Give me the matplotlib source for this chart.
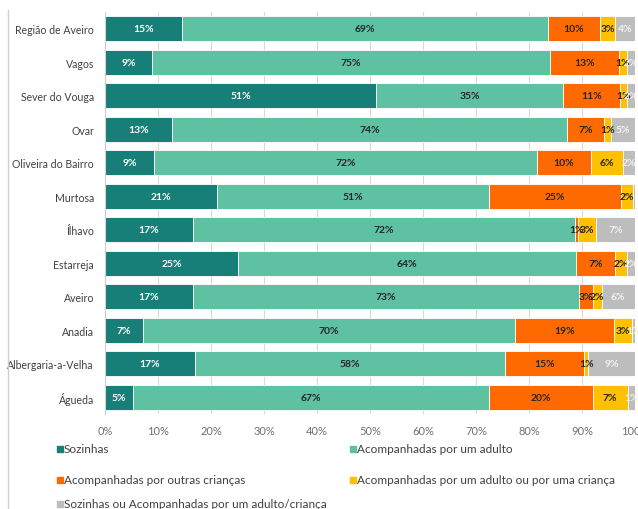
import matplotlib.pyplot as plt
from matplotlib.lines import Line2D
from matplotlib.patches import Rectangle

plt.rcParams["font.family"] = ["Lato", "DejaVu Sans"]

# categories, top to bottom as in the chart
concelhos = [
    "Região de Aveiro", "Vagos", "Sever do Vouga", "Ovar", "Oliveira do Bairro",
    "Murtosa", "Ílhavo", "Estarreja", "Aveiro", "Anadia",
    "Albergaria-a-Velha", "Águeda",
]

series_names = [
    "Sozinhas",
    "Acompanhadas por um adulto",
    "Acompanhadas por outras crianças",
    "Acompanhadas por um adulto ou por uma criança",
    "Sozinhas ou Acompanhadas por um adulto/criança",
]

# percentages
sozinhas = [14.6, 8.9, 51.1, 12.7, 9.3, 21.1, 16.6, 25.1, 16.6, 7.1, 17.0, 5.2]
com_adulto = [69.0, 75.1, 35.4, 74.4, 72.2, 51.3, 72.1, 63.8, 72.8, 70.3, 58.4, 67.2]
com_criancas = [9.8, 13.0, 10.6, 7.1, 10.2, 25.0, 0.6, 7.4, 2.7, 18.6, 15.0, 19.6]
adulto_ou_crianca = [2.8, 1.4, 1.4, 1.2, 6.0, 2.2, 3.4, 2.2, 1.6, 3.4, 0.8, 6.6]
sozinhas_ou_acomp = [3.8, 1.6, 1.5, 4.6, 2.3, 0.4, 7.3, 1.5, 6.3, 0.6, 8.8, 1.4]

x_ticks = [0, 10, 20, 30, 40, 50, 60, 70, 80, 90, 100]

colors = ["#177F78", "#5EC1A1", "#FF6A00", "#FFC000", "#BDBDBD"]
label_colors = ["white", "#262626", "#262626", "#262626", "#F2F2F2"]

series = [sozinhas, com_adulto, com_criancas, adulto_ou_crianca, sozinhas_ou_acomp]

fig = plt.figure(figsize=(6.38, 5.10), dpi=100)
ax = fig.add_axes([105 / 638, 1 - 415 / 510, 530 / 638, 402 / 510])

ypos = list(range(len(concelhos)))
left = [0.0] * len(concelhos)
for vals, col, tcol in zip(series, colors, label_colors):
    bars = ax.barh(ypos, vals, left=left, height=0.75, color=col,
                   edgecolor="white", linewidth=0.6, zorder=2)
    for b, v in zip(bars, vals):
        if round(v) >= 1:
            ax.text(b.get_x() + b.get_width() / 2, b.get_y() + b.get_height() / 2,
                    f"{round(v)}%", ha="center", va="center", fontsize=7.5,
                    fontweight="bold", color=tcol, zorder=3)
    left = [l + v for l, v in zip(left, vals)]

ax.set_xlim(0, 100)
ax.set_ylim(len(concelhos) - 0.5, -0.5)
ax.set_xticks(x_ticks)
ax.set_xticklabels([f"{t}%" for t in x_ticks], fontsize=8, color="#707070")
ax.set_yticks(ypos)
ax.set_yticklabels(concelhos, fontsize=7.6, color="#404040")
ax.tick_params(axis="both", length=0, pad=8)
ax.tick_params(axis="x", pad=8)
ax.grid(axis="x", color="#D9D9D9", linewidth=0.8, zorder=0)
ax.set_axisbelow(True)
for s in ["top", "right", "bottom"]:
    ax.spines[s].set_visible(False)
ax.spines["left"].set_color("#D0D0D0")

# legend laid out like the original (Excel) one
legend_pos = [(57, 450), (350, 450), (57, 481), (350, 481), (57, 505)]
for name, col, (px, py) in zip(series_names, colors, legend_pos):
    fig.add_artist(Rectangle((px / 638, 1 - (py + 3) / 510), 6 / 638, 6 / 510,
                             transform=fig.transFigure, color=col))
    fig.text((px + 7) / 638, 1 - py / 510, name, fontsize=8.5,
             color="#404040", va="center", ha="left")

# outer chart frame edge on the left
fig.add_artist(Line2D([8 / 638, 8 / 638], [0, 1 - 11 / 510],
                      transform=fig.transFigure, color="#D0D0D0", linewidth=1))

fig.savefig("out.png", dpi=100)
